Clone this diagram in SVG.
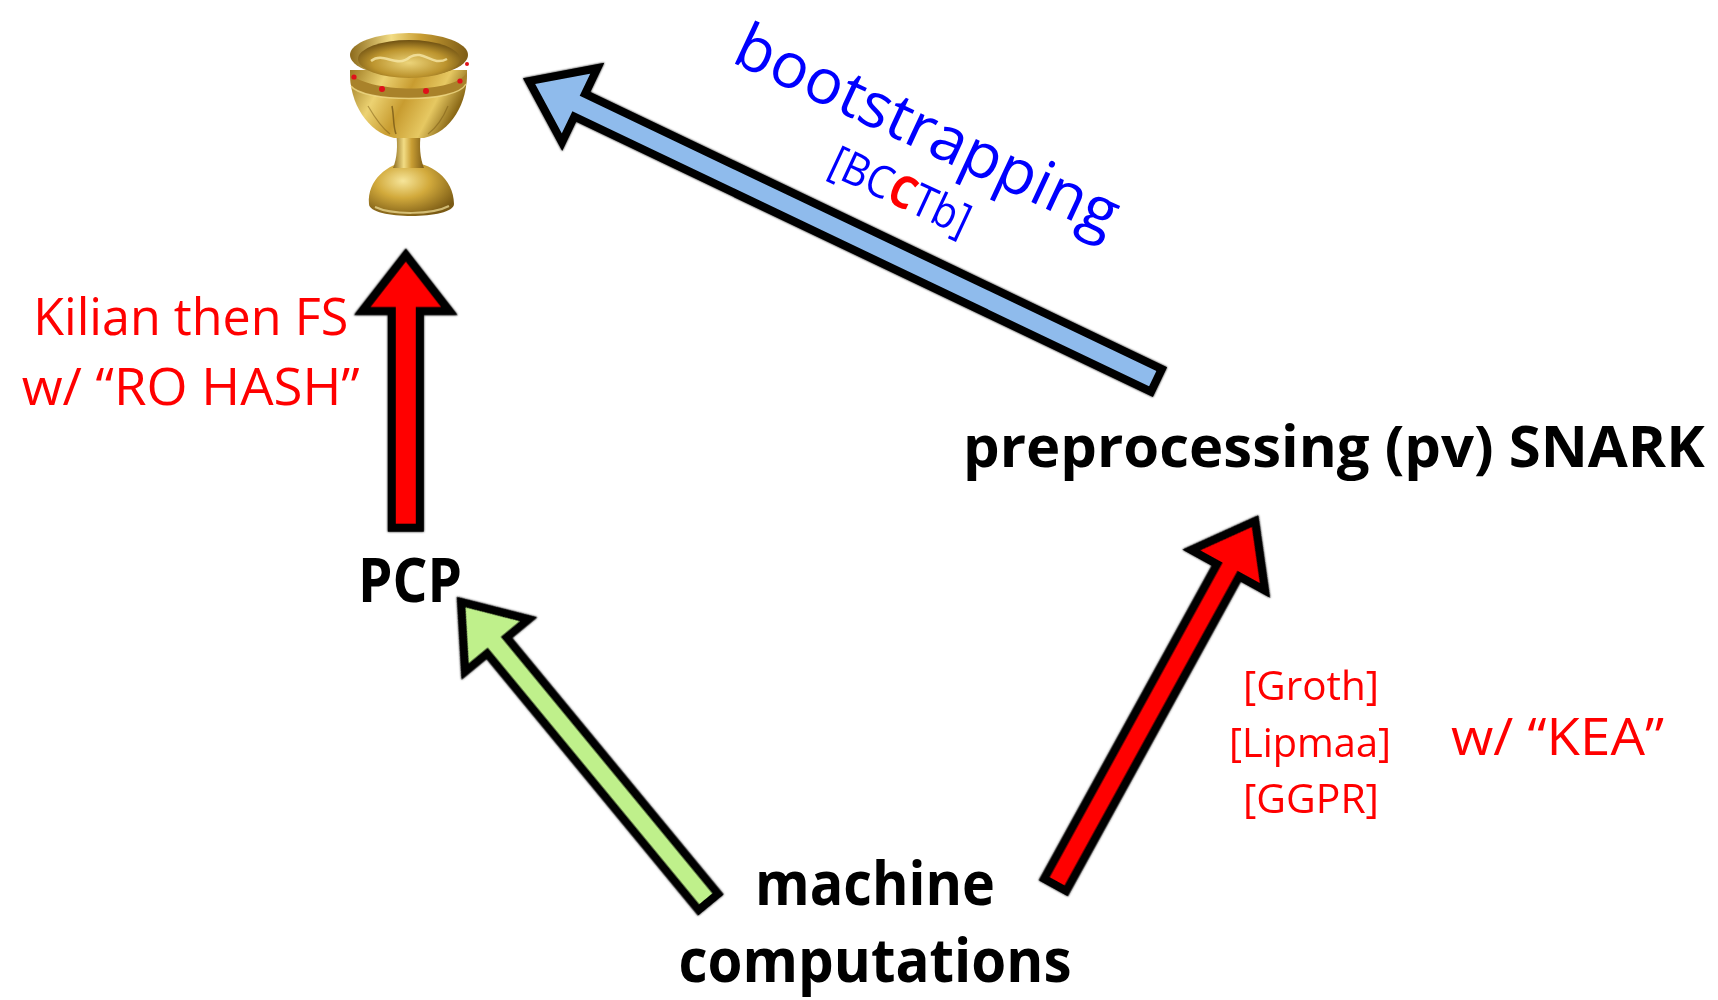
<svg xmlns="http://www.w3.org/2000/svg" width="1718" height="1000" viewBox="0 0 1718 1000">
  <defs>
    <style>
      .lbl { font-family: "Open Sans", "Liberation Sans", sans-serif; }
      .node { font-weight: bold; fill: #000; }
      .red { fill: #ff0000; }
      .blue { fill: #0000ff; }
      .arrow { stroke: #000; stroke-width: 8; stroke-linejoin: miter; stroke-miterlimit: 6; }
    </style>
    <!-- soft dark halo round the hand-drawn arrows -->
    <filter id="soft" x="-10%" y="-10%" width="120%" height="120%">
      <feGaussianBlur in="SourceAlpha" stdDeviation="1.3" result="halo"/>
      <feMerge><feMergeNode in="halo"/><feMergeNode in="SourceGraphic"/></feMerge>
    </filter>
    <radialGradient id="goldBase" cx="0.4" cy="0.35" r="0.7">
      <stop offset="0" stop-color="#f6e59a"/>
      <stop offset="0.45" stop-color="#d2aa3c"/>
      <stop offset="1" stop-color="#7a5a14"/>
    </radialGradient>
    <linearGradient id="goldH" x1="0" y1="0" x2="1" y2="0">
      <stop offset="0" stop-color="#8c6a1c"/>
      <stop offset="0.35" stop-color="#f2dc84"/>
      <stop offset="0.6" stop-color="#c99e34"/>
      <stop offset="1" stop-color="#7d5c16"/>
    </linearGradient>
    <linearGradient id="goldBowl" x1="0" y1="0" x2="1" y2="0.3">
      <stop offset="0" stop-color="#9c7820"/>
      <stop offset="0.3" stop-color="#ecd272"/>
      <stop offset="0.55" stop-color="#c89c30"/>
      <stop offset="0.8" stop-color="#e6c862"/>
      <stop offset="1" stop-color="#8a6816"/>
    </linearGradient>
    <radialGradient id="goldInside" cx="0.5" cy="0.6" r="0.6">
      <stop offset="0" stop-color="#ecd47a"/>
      <stop offset="0.6" stop-color="#bc942e"/>
      <stop offset="1" stop-color="#6e5012"/>
    </radialGradient>
  </defs>

  <rect width="1718" height="1000" fill="#ffffff"/>

  <!-- connectors: arrow bodies drawn tail-at-origin along +x, then placed -->
  <g id="connectors" filter="url(#soft)">
    <!-- preprocessing SNARK -> grail (bootstrapping) -->
    <polygon id="edge-bootstrapping" class="arrow" fill="#8fbbec"
      transform="translate(1156.4,380.3) rotate(205.5)"
      points="0,-12.5 639,-12.5 639,-41 695,0 639,41 639,12.5 0,12.5"/>
    <!-- PCP -> grail (Kilian then FS) -->
    <polygon id="edge-kilian" class="arrow" fill="#ff0000"
      transform="translate(405.8,527.7) rotate(-90)"
      points="0,-14 216.7,-14 216.7,-43.5 272.7,0 216.7,43.5 216.7,14 0,14"/>
    <!-- machine computations -> PCP -->
    <polygon id="edge-pcp" class="arrow" fill="#bff08b"
      transform="translate(708.3,901.9) rotate(230.5)"
      points="0,-12.5 332.5,-12.5 332.5,-41 388.5,0 332.5,41 332.5,12.5 0,12.5"/>
    <!-- machine computations -> preprocessing SNARK -->
    <polygon id="edge-snark" class="arrow" fill="#ff0000"
      transform="translate(1055.2,884.8) rotate(-61.2)"
      points="0,-12.5 359,-12.5 359,-42 415,0 359,42 359,12.5 0,12.5"/>
  </g>

  <!-- goal node: golden grail -->
  <g id="node-grail">
    <!-- foot -->
    <path d="M369,204 C367,180 388,163 408,162 C430,162 454,178 454,204 C454,220 369,220 369,204 Z" fill="url(#goldBase)"/>
    <path d="M375,207 C392,215 432,215 449,206" fill="none" stroke="#f4e39c" stroke-width="2" opacity="0.7"/>
    <!-- stem -->
    <path d="M396,132 L421,132 C419,146 420,158 424,168 L393,168 C397,158 398,146 396,132 Z" fill="url(#goldH)"/>
    <!-- bowl -->
    <path d="M350,70 C349,104 368,132 394,138 L424,138 C451,132 468,104 467,70 Z" fill="url(#goldBowl)"/>
    <path d="M392,106 C394,116 393,126 396,134" fill="none" stroke="#6e5012" stroke-width="1.5" opacity="0.7"/>
    <path d="M368,106 C375,118 382,128 390,134" fill="none" stroke="#7a5a14" stroke-width="1.2" opacity="0.5"/>
    <path d="M448,106 C443,118 436,128 428,134" fill="none" stroke="#7a5a14" stroke-width="1.2" opacity="0.5"/>
    <!-- band with jewels -->
    <path d="M350,72 C360,92 456,96 467,72 L466,84 C456,104 362,102 351,86 Z" fill="#a9822a"/>
    <path d="M351,86 C362,102 456,104 466,84" fill="none" stroke="#f1dc8a" stroke-width="1.5" opacity="0.8"/>
    <!-- rim and inside -->
    <ellipse cx="409" cy="55" rx="59" ry="22" fill="url(#goldH)"/>
    <ellipse cx="409" cy="59" rx="51" ry="19" fill="url(#goldInside)"/>
    <path d="M371,61 C384,51 396,69 410,57 C424,49 432,67 447,59" fill="none" stroke="#f6e7a8" stroke-width="2.5" opacity="0.8"/>
    <circle cx="354" cy="77" r="2.6" fill="#e0101a"/>
    <circle cx="382" cy="89" r="3" fill="#e0101a"/>
    <circle cx="426" cy="91" r="3" fill="#e0101a"/>
    <circle cx="460" cy="81" r="2.6" fill="#e0101a"/>
    <circle cx="467" cy="64" r="2" fill="#e0101a"/>
  </g>

  <g id="node-pcp">
    <text class="lbl node" font-size="60" x="410" y="602" text-anchor="middle" textLength="104" lengthAdjust="spacingAndGlyphs">PCP</text>
  </g>

  <g id="node-snark">
    <text class="lbl node" font-size="58" x="963" y="467">preprocessing (pv) SNARK</text>
  </g>

  <g id="node-machine">
    <text class="lbl node" font-size="60" x="875" y="905" text-anchor="middle" textLength="240" lengthAdjust="spacingAndGlyphs">machine</text>
    <text class="lbl node" font-size="60" x="875" y="982" text-anchor="middle" textLength="393" lengthAdjust="spacingAndGlyphs">computations</text>
  </g>

  <!-- connector labels -->
  <g id="edge-labels">
    <text class="lbl red" font-size="52" x="190.7" y="335" text-anchor="middle" textLength="315" lengthAdjust="spacingAndGlyphs">Kilian then FS</text>
    <text class="lbl red" font-size="52" x="190.7" y="405" text-anchor="middle" textLength="338" lengthAdjust="spacingAndGlyphs">w/ “RO HASH”</text>

    <text class="lbl blue" font-size="63" x="918.5" y="149.4" text-anchor="middle" transform="rotate(25 918.5 149.4)">bootstrapping</text>
    <text class="lbl blue" font-size="45" x="894" y="205" text-anchor="middle" textLength="150" lengthAdjust="spacingAndGlyphs" transform="rotate(25 894 205)">[BC<tspan class="red" font-weight="bold">C</tspan>Tb]</text>

    <text class="lbl red" font-size="41" x="1311" y="700" text-anchor="middle" textLength="136" lengthAdjust="spacingAndGlyphs">[Groth]</text>
    <text class="lbl red" font-size="41" x="1310" y="757" text-anchor="middle" textLength="162" lengthAdjust="spacingAndGlyphs">[Lipmaa]</text>
    <text class="lbl red" font-size="41" x="1311" y="813" text-anchor="middle" textLength="136" lengthAdjust="spacingAndGlyphs">[GGPR]</text>
    <text class="lbl red" font-size="52" x="1451" y="755" textLength="213" lengthAdjust="spacingAndGlyphs">w/ “KEA”</text>
  </g>
</svg>
